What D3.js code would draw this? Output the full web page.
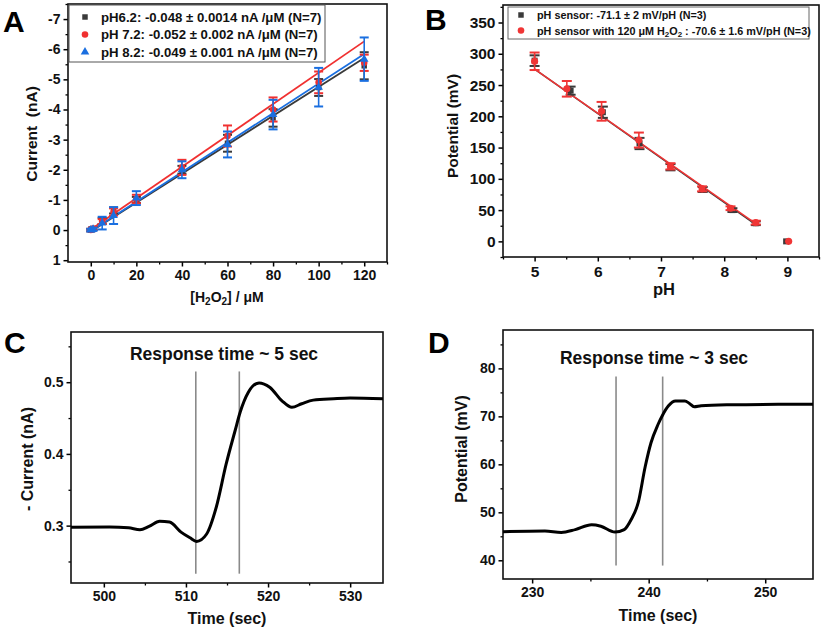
<!DOCTYPE html>
<html><head><meta charset="utf-8">
<script src="https://cdn.jsdelivr.net/npm/d3@7"></script>
<style>
body{margin:0;background:#fff;}
svg{font-family:"Liberation Sans",Arial,sans-serif;font-weight:bold;}
</style></head>
<body><svg id="c" width="822" height="631"></svg>
<script>
// ---------- Panel A data ----------
const concA = [0, 1, 5, 10, 20, 40, 60, 80, 100, 120];
const curPH62 = [0, -0.05, -0.3, -0.65, -1.0, -2.0, -2.88, -3.72, -4.73, -5.45];
const errPH62 = [0.04, 0.05, 0.1, 0.1, 0.1, 0.13, 0.28, 0.29, 0.28, 0.45];
const curPH72 = [0, -0.05, -0.28, -0.6, -1.03, -2.08, -3.12, -4.0, -4.9, -5.55];
const errPH72 = [0.04, 0.05, 0.08, 0.12, 0.14, 0.25, 0.35, 0.4, 0.36, 0.27];
const curPH82 = [0, -0.03, -0.23, -0.48, -1.06, -2.0, -2.84, -3.83, -4.74, -5.67];
const errPH82 = [0.04, 0.05, 0.21, 0.28, 0.23, 0.28, 0.43, 0.49, 0.64, 0.72];
const slopesA = [-0.048, -0.052, -0.049];
const interceptsA = [0.05, -0.02, 0.04];
const legendA = ["pH6.2: -0.048 \u00b1 0.0014 nA /\u03bcM (N=7)", "pH 7.2: -0.052 \u00b1 0.002 nA /\u03bcM (N=7)", "pH 8.2: -0.049 \u00b1 0.001 nA /\u03bcM (N=7)"];
const yTicksA = [1, 0, -1, -2, -3, -4, -5, -6, -7];
const xTicksA = [0, 20, 40, 60, 80, 100, 120];

// ---------- Panel B data ----------
const phB1 = [5.0, 5.57, 6.08, 6.66, 7.15, 7.66, 8.13, 8.5, 8.98];
const potB1 = [289, 241, 206.5, 156.5, 118.6, 83, 50, 29, 0];
const errB1 = [8.5, 6.5, 9, 9, 5, 4, 3, 3, 0];
const phB2 = [5.0, 5.51, 6.06, 6.65, 7.15, 7.65, 8.1, 8.5, 9.02];
const potB2 = [288, 244, 208, 162, 120, 84, 53, 30, 0];
const errB2 = [14, 12.5, 15, 12, 5, 4, 3, 3, 0];
const slopesB = [-71.1, -70.6];
const interceptsB = [631, 628.5];
const yTicksB = [0, 50, 100, 150, 200, 250, 300, 350];
const xTicksB = [5, 6, 7, 8, 9];

// ---------- Panel C data ----------
const timeC = [496, 500.7, 503, 504.4, 505.5, 506.8, 508, 509.4, 510.5, 511.3, 512.5, 513.7, 514.9, 516, 516.6, 517.6, 518.9, 520.2, 521.7, 522.9, 524.1, 525.5, 528, 530, 534];
const curC = [0.2977, 0.298, 0.297, 0.2944, 0.299, 0.306, 0.305, 0.291, 0.283, 0.278, 0.288, 0.326, 0.386, 0.433, 0.458, 0.486, 0.499, 0.493, 0.474, 0.465, 0.470, 0.475, 0.477, 0.478, 0.477];
const markC = [511.2, 516.5];
const yTicksC = [0.3, 0.4, 0.5];
const xTicksC = [500, 510, 520, 530];

// ---------- Panel D data ----------
const timeD = [227.5, 231.1, 232.5, 233.7, 235.1, 235.9, 237.1, 237.9, 238.5, 239.1, 239.7, 240.2, 240.8, 241.2, 241.7, 242.3, 243.1, 243.5, 243.9, 244.5, 246.8, 251.1, 254.1];
const potD = [45.96, 46.1, 45.8, 46.4, 47.4, 47.1, 45.9, 46.4, 48.5, 52.0, 59.5, 64.5, 68.3, 70.3, 72.2, 73.2, 73.2, 72.7, 72.0, 72.2, 72.4, 72.5, 72.5];
const markD = [237.2, 241.2];
const yTicksD = [40, 50, 60, 70, 80];
const xTicksD = [230, 240, 250];

const svg = d3.select("#c");

function panel(o) {
  const g = svg.append("g");
  const x = d3.scaleLinear().domain(o.xd).range([o.l, o.r]);
  const y = d3.scaleLinear().domain(o.yd).range([o.b, o.t]);
  const fmtY = o.fy || (d => String(d));
  const fmtX = o.fx || (d => String(d));
  g.append("g").attr("transform", `translate(${o.l},0)`)
    .call(d3.axisLeft(y).tickValues(o.yMinor).tickSize(2.5).tickFormat(""))
    .call(s => { s.select(".domain").remove(); s.selectAll("line").attr("stroke-width", 1.3); });
  g.append("g").attr("transform", `translate(0,${o.b})`)
    .call(d3.axisBottom(x).tickValues(o.xMinor).tickSize(2.5).tickFormat(""))
    .call(s => { s.select(".domain").remove(); s.selectAll("line").attr("stroke-width", 1.3); });
  g.append("g").attr("transform", `translate(${o.l},0)`)
    .call(d3.axisLeft(y).tickValues(o.yTicks).tickSize(4.5).tickPadding(3).tickFormat(fmtY))
    .call(s => { s.select(".domain").remove(); s.selectAll("line").attr("stroke-width", 1.5);
      s.selectAll("text").attr("font-size", o.fs).attr("font-weight", "bold").attr("fill", "#111").attr("font-family", "Liberation Sans, Arial, sans-serif"); });
  g.append("g").attr("transform", `translate(0,${o.b})`)
    .call(d3.axisBottom(x).tickValues(o.xTicks).tickSize(4.5).tickPadding(4).tickFormat(fmtX))
    .call(s => { s.select(".domain").remove(); s.selectAll("line").attr("stroke-width", 1.5);
      s.selectAll("text").attr("font-size", o.fs).attr("font-weight", "bold").attr("fill", "#111").attr("font-family", "Liberation Sans, Arial, sans-serif"); });
  g.append("rect").attr("x", o.l).attr("y", o.t).attr("width", o.r - o.l).attr("height", o.b - o.t)
    .attr("fill", "none").attr("stroke", "#111").attr("stroke-width", 1.6);
  svg.append("text").attr("x", o.lx).attr("y", o.ly).attr("font-size", 30).attr("font-weight", "bold").attr("fill", "#000").text(o.letter);
  return { g, x, y };
}

// ================= Panel A =================
(function () {
  const P = panel({ l: 68, r: 387, t: 4, b: 262, xd: [-10, 130], yd: [1.06, -7.5],
    yTicks: yTicksA, yMinor: d3.range(-7.5, 1.01, 0.5).filter(v => !Number.isInteger(v)),
    xTicks: xTicksA, xMinor: [10, 30, 50, 70, 90, 110, 130], fs: 14, letter: "A", lx: 3, ly: 32 });
  const { g, x, y } = P;
  const series = [
    { v: curPH62, e: errPH62, c: "#3a3a3a", sym: d3.symbolSquare, size: 30 },
    { v: curPH72, e: errPH72, c: "#f03030", sym: d3.symbolCircle, size: 34 },
    { v: curPH82, e: errPH82, c: "#1a6fe0", sym: d3.symbolTriangle, size: 32 }
  ];
  const lineFit = d3.line().x(d => x(d[0])).y(d => y(d[1]));
  series.forEach((s, k) => {
    g.append("path").attr("d", lineFit([0, 120].map(c => [c, slopesA[k] * c + interceptsA[k]])))
      .attr("stroke", s.c).attr("stroke-width", 1.8).attr("fill", "none");
  });
  series.forEach((s, k) => {
    const eg = g.append("g").attr("stroke", s.c).attr("stroke-width", 1.6);
    concA.forEach((c, i) => {
      const cx = x(c), y1 = y(s.v[i] - s.e[i]), y2 = y(s.v[i] + s.e[i]);
      eg.append("line").attr("x1", cx).attr("x2", cx).attr("y1", y1).attr("y2", y2);
      eg.append("line").attr("x1", cx - 4.5).attr("x2", cx + 4.5).attr("y1", y1).attr("y2", y1).attr("stroke-width", 2);
      eg.append("line").attr("x1", cx - 4.5).attr("x2", cx + 4.5).attr("y1", y2).attr("y2", y2).attr("stroke-width", 2);
    });
    g.selectAll(null).data(concA).enter().append("path")
      .attr("d", d3.symbol().type(s.sym).size(s.size))
      .attr("transform", (c, i) => `translate(${x(c)},${y(s.v[i])})`).attr("fill", s.c);
  });
  const lg = svg.append("g");
  lg.append("rect").attr("x", 69).attr("y", 5).attr("width", 256).attr("height", 57)
    .attr("fill", "#fff").attr("stroke", "#555").attr("stroke-width", 1);
  series.forEach((s, k) => {
    const yy = 17 + k * 17.5;
    lg.append("path").attr("d", d3.symbol().type(s.sym).size(s.size)).attr("transform", `translate(85,${yy})`).attr("fill", s.c);
    lg.append("text").attr("x", 101).attr("y", yy + 4.6).attr("font-size", 13.2).attr("fill", "#111").text(legendA[k]);
  });
  svg.append("text").attr("transform", "translate(32,134) rotate(-90)").attr("text-anchor", "middle")
    .attr("dy", "0.35em").attr("font-size", 15.5).attr("fill", "#111").text("Current\u00a0 (nA)");
  const xt = svg.append("text").attr("x", 227).attr("y", 302).attr("text-anchor", "middle").attr("font-size", 14).attr("fill", "#111");
  xt.append("tspan").text("[H");
  xt.append("tspan").attr("font-size", 10).attr("dy", 3).text("2");
  xt.append("tspan").attr("dy", -3).text("O");
  xt.append("tspan").attr("font-size", 10).attr("dy", 3).text("2");
  xt.append("tspan").attr("dy", -3).text("] / \u03bcM");
})();

// ================= Panel B =================
(function () {
  const P = panel({ l: 503, r: 819, t: 5, b: 257, xd: [4.5, 9.5], yd: [-25, 378],
    yTicks: yTicksB, yMinor: [-25, 25, 75, 125, 175, 225, 275, 325, 375],
    xTicks: xTicksB, xMinor: [4.5, 5.5, 6.5, 7.5, 8.5, 9.5], fs: 15.5, letter: "B", lx: 425, ly: 30 });
  const { g, x, y } = P;
  const series = [
    { p: phB1, v: potB1, e: errB1, c: "#3a3a3a", sym: d3.symbolSquare, size: 36 },
    { p: phB2, v: potB2, e: errB2, c: "#f03535", sym: d3.symbolCircle, size: 40 }
  ];
  const lineFit = d3.line().x(d => x(d[0])).y(d => y(d[1]));
  series.forEach((s, k) => {
    g.append("path").attr("d", lineFit([5, 8.5].map(p => [p, slopesB[k] * p + interceptsB[k]])))
      .attr("stroke", s.c).attr("stroke-width", 1.5).attr("fill", "none");
  });
  series.forEach((s, k) => {
    const eg = g.append("g").attr("stroke", s.c).attr("stroke-width", 1.6);
    s.p.forEach((p, i) => {
      if (s.e[i] <= 0) return;
      const cx = x(p), y1 = y(s.v[i] - s.e[i]), y2 = y(s.v[i] + s.e[i]);
      eg.append("line").attr("x1", cx).attr("x2", cx).attr("y1", y1).attr("y2", y2);
      eg.append("line").attr("x1", cx - 5).attr("x2", cx + 5).attr("y1", y1).attr("y2", y1).attr("stroke-width", 2);
      eg.append("line").attr("x1", cx - 5).attr("x2", cx + 5).attr("y1", y2).attr("y2", y2).attr("stroke-width", 2);
    });
    g.selectAll(null).data(s.p).enter().append("path")
      .attr("d", d3.symbol().type(s.sym).size(s.size))
      .attr("transform", (p, i) => `translate(${x(p)},${y(s.v[i])})`).attr("fill", s.c);
  });
  const lg = svg.append("g");
  lg.append("rect").attr("x", 508).attr("y", 7).attr("width", 301).attr("height", 32)
    .attr("fill", "#fff").attr("stroke", "#666").attr("stroke-width", 1);
  lg.append("path").attr("d", d3.symbol().type(d3.symbolSquare).size(30)).attr("transform", "translate(521,15)").attr("fill", "#3a3a3a");
  lg.append("path").attr("d", d3.symbol().type(d3.symbolCircle).size(34)).attr("transform", "translate(521,30.5)").attr("fill", "#f03535");
  lg.append("text").attr("x", 537).attr("y", 19).attr("font-size", 10.8).attr("fill", "#111").text("pH sensor: -71.1 \u00b1 2 mV/pH (N=3)");
  const t2 = lg.append("text").attr("x", 537).attr("y", 34.5).attr("font-size", 10.8).attr("fill", "#111");
  t2.append("tspan").text("pH sensor with 120 \u03bcM H");
  t2.append("tspan").attr("font-size", 8).attr("dy", 2.5).text("2");
  t2.append("tspan").attr("dy", -2.5).text("O");
  t2.append("tspan").attr("font-size", 8).attr("dy", 2.5).text("2");
  t2.append("tspan").attr("dy", -2.5).text("\u00a0: -70.6 \u00b1 1.6 mV/pH (N=3)");
  svg.append("text").attr("transform", "translate(453,126) rotate(-90)").attr("text-anchor", "middle")
    .attr("dy", "0.35em").attr("font-size", 15.5).attr("fill", "#111").text("Potential (mV)");
  svg.append("text").attr("x", 664).attr("y", 295).attr("text-anchor", "middle").attr("font-size", 16.5).attr("fill", "#111").text("pH");
})();

// ================= Panel C =================
(function () {
  const P = panel({ l: 71, r: 383, t: 332, b: 583, xd: [496, 534], yd: [0.22, 0.57],
    yTicks: yTicksC, yMinor: [0.25, 0.35, 0.45, 0.55],
    xTicks: xTicksC, xMinor: [505, 515, 525], fs: 14, letter: "C", lx: 4, ly: 353, fy: d3.format(".1f") });
  const { g, x, y } = P;
  markC.forEach(t => g.append("line").attr("x1", x(t)).attr("x2", x(t)).attr("y1", y(0.233)).attr("y2", y(0.515))
    .attr("stroke", "#8a8a8a").attr("stroke-width", 1.6));
  g.append("path").attr("d", d3.line().x((d, i) => x(timeC[i])).y(d => y(d)).curve(d3.curveMonotoneX)(curC))
    .attr("fill", "none").attr("stroke", "#000").attr("stroke-width", 3);
  svg.append("text").attr("x", 224).attr("y", 360).attr("text-anchor", "middle").attr("font-size", 17.5).attr("fill", "#111").text("Response time ~ 5 sec");
  svg.append("text").attr("transform", "translate(27,459) rotate(-90)").attr("text-anchor", "middle")
    .attr("dy", "0.35em").attr("font-size", 16).attr("fill", "#111").text("- Current (nA)");
  svg.append("text").attr("x", 227).attr("y", 624).attr("text-anchor", "middle").attr("font-size", 16).attr("fill", "#111").text("Time (sec)");
})();

// ================= Panel D =================
(function () {
  const P = panel({ l: 503, r: 813, t: 330, b: 579, xd: [227.5, 254.1], yd: [36.1, 88],
    yTicks: yTicksD, yMinor: [45, 55, 65, 75, 85],
    xTicks: xTicksD, xMinor: [235, 245], fs: 14, letter: "D", lx: 428, ly: 353 });
  const { g, x, y } = P;
  markD.forEach(t => g.append("line").attr("x1", x(t)).attr("x2", x(t)).attr("y1", y(38.9)).attr("y2", y(78.3))
    .attr("stroke", "#8a8a8a").attr("stroke-width", 1.6));
  g.append("path").attr("d", d3.line().x((d, i) => x(timeD[i])).y(d => y(d)).curve(d3.curveMonotoneX)(potD))
    .attr("fill", "none").attr("stroke", "#000").attr("stroke-width", 3);
  svg.append("text").attr("x", 654).attr("y", 364).attr("text-anchor", "middle").attr("font-size", 17.5).attr("fill", "#111").text("Response time ~ 3 sec");
  svg.append("text").attr("transform", "translate(461,449) rotate(-90)").attr("text-anchor", "middle")
    .attr("dy", "0.35em").attr("font-size", 16).attr("fill", "#111").text("Potential (mV)");
  svg.append("text").attr("x", 658).attr("y", 621).attr("text-anchor", "middle").attr("font-size", 16).attr("fill", "#111").text("Time (sec)");
})();
</script></body></html>
